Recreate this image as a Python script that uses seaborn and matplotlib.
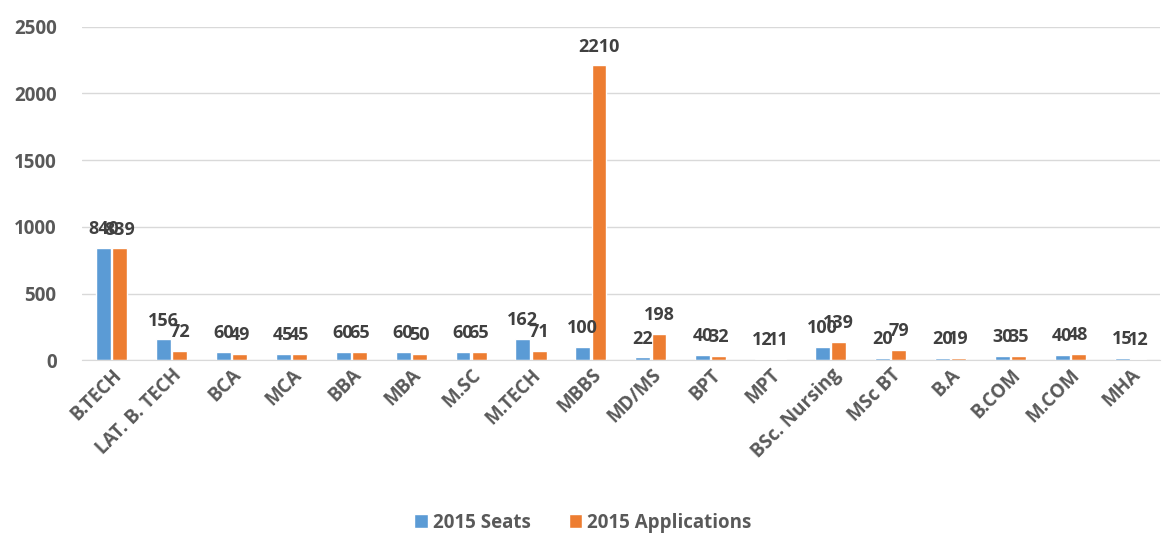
import pandas as pd
import matplotlib.pyplot as plt
import seaborn as sns

# chart values
courses = ['B.TECH', 'LAT. B. TECH', 'BCA', 'MCA', 'BBA', 'MBA', 'M.SC', 'M.TECH',
           'MBBS', 'MD/MS', 'BPT', 'MPT', 'BSc. Nursing', 'MSc BT', 'B.A', 'B.COM',
           'M.COM', 'MHA']
seats = [840, 156, 60, 45, 60, 60, 60, 162, 100, 22, 40, 12, 100, 20, 20, 30, 40, 15]
applications = [839, 72, 49, 45, 65, 50, 65, 71, 2210, 198, 32, 11, 139, 79, 19, 35, 48, 12]

data = pd.DataFrame({
    'course': courses * 2,
    'value': seats + applications,
    'series': ['2015 Seats'] * len(courses) + ['2015 Applications'] * len(courses),
})

sns.set_style('white')
plt.rcParams['font.family'] = ['Open Sans', 'DejaVu Sans']
text_col = '#595959'

fig = plt.figure(figsize=(11.66, 5.36), dpi=100)
ax = fig.add_axes([0.07, 0.328, 0.925, 0.622])

sns.barplot(data=data, x='course', y='value', hue='series',
            palette=['#5B9BD5', '#ED7D31'], width=0.54, gap=0.08,
            saturation=1, ax=ax)

for cont in ax.containers:
    ax.bar_label(cont, fontsize=13, fontweight='bold', color='#404040', padding=7)

ax.set_ylim(0, 2500)
ax.set_yticks(range(0, 2501, 500))
ax.grid(axis='y', color='#D9D9D9', linewidth=1)
ax.set_axisbelow(True)
for s in ['top', 'right', 'left']:
    ax.spines[s].set_visible(False)
ax.spines['bottom'].set_color('#D9D9D9')
ax.set_xlabel('')
ax.set_ylabel('')
ax.tick_params(axis='both', length=0, labelcolor=text_col, labelsize=13.5)
ax.tick_params(axis='y', pad=18)
plt.setp(ax.get_xticklabels(), rotation=45, ha='right', rotation_mode='anchor', fontweight='bold')
plt.setp(ax.get_yticklabels(), fontweight='bold')

ax.legend_.remove()
handles, labels = ax.get_legend_handles_labels()
fig.legend(handles, labels, loc='lower center', bbox_to_anchor=(0.5, -0.025), ncol=2,
           frameon=False, handlelength=0.7, handleheight=0.7, columnspacing=2.0,
           handletextpad=0.3, prop={'weight': 'bold', 'size': 13.5}, labelcolor=text_col)

fig.savefig('out.png', dpi=100)
